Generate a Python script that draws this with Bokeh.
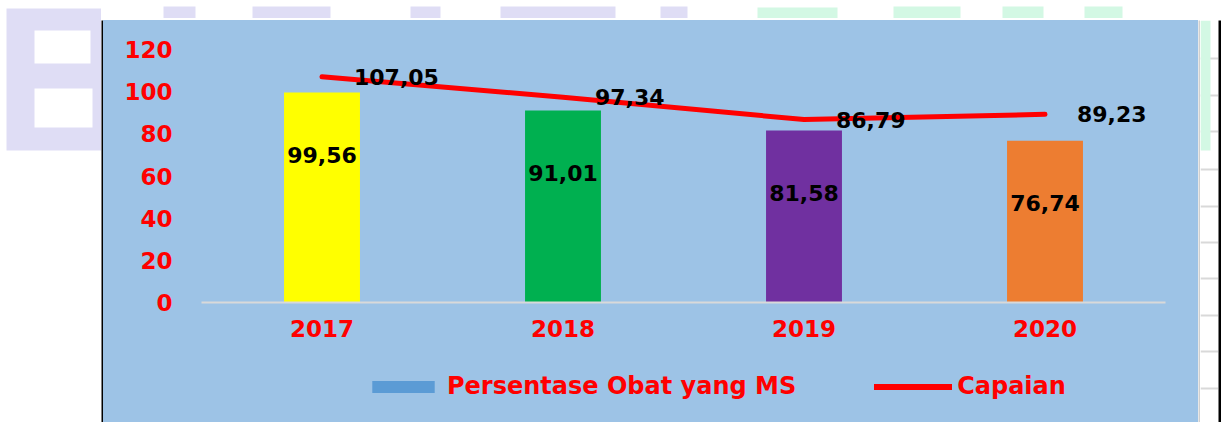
from bokeh.plotting import figure
from bokeh.models import Range1d, FactorRange, Legend, LegendItem, ColumnDataSource, FixedTicker, Grid
from bokeh.layouts import row, column
from bokeh.core.properties import value
from bokeh.embed import file_html
from bokeh.resources import INLINE

# ---- data ----
years = ["2017", "2018", "2019", "2020"]
ms_pct = [99.56, 91.01, 81.58, 76.74]          # Persentase Obat yang MS (bars)
capaian = [107.05, 97.34, 86.79, 89.23]        # Capaian (line)
bar_colors = ["#FFFF00", "#00B050", "#7030A0", "#ED7D31"]
y_ticks = [0, 20, 40, 60, 80, 100, 120]
series_names = ["Persentase Obat yang MS", "Capaian"]
series_swatch = ["#5B9BD5", "#FF0000"]


def fmt(v):
    return f"{v:.2f}".replace(".", ",")


ms_labels = [fmt(v) for v in ms_pct]
cap_labels = [fmt(v) for v in capaian]

FONT = "DejaVu Sans"
RED = "#FF0000"
BLUE_BG = "#9DC3E6"
LAV = "#DFDDF5"
MINT = "#D3F8E4"


def block(w, h, color, xr=None, yr=None):
    kw = {}
    if xr is not None:
        kw["x_range"] = Range1d(*xr)
        kw["y_range"] = Range1d(*yr)
    f = figure(width=w, height=h, toolbar_location=None, output_backend="svg",
               min_border=0, x_axis_type=None, y_axis_type=None, **kw)
    f.background_fill_color = color
    f.border_fill_color = color
    f.outline_line_color = None
    return f


# ---- main chart ----
p = figure(width=1095, height=330,
           x_range=FactorRange(factors=years, range_padding=0),
           y_range=Range1d(0, 120),
           toolbar_location=None, output_backend="svg",
           min_border_left=98, min_border_right=33,
           min_border_top=29, min_border_bottom=48)
p.background_fill_color = BLUE_BG
p.border_fill_color = None          # transparent border; the element's own background is blue
p.styles = {"background-color": BLUE_BG}
p.outline_line_color = None
p.xgrid.visible = False
p.ygrid.visible = False

src = ColumnDataSource(dict(x=years, top=ms_pct, color=bar_colors, lbl=ms_labels))
p.vbar(x="x", top="top", width=0.315, fill_color="color", line_color=None, source=src)

p.line(x=years, y=capaian, line_color=RED, line_width=5,
       line_cap="round", line_join="round")

p.text(x="x", y="top", text="lbl", source=src, text_align="center",
       text_baseline="middle", y_offset=62,
       text_font=value(FONT), text_font_style="bold", text_font_size="22px",
       text_color="black")

p.text(x=years, y=capaian, text=cap_labels, text_align="left",
       text_baseline="middle", x_offset=32,
       text_font=value(FONT), text_font_style="bold", text_font_size="22px",
       text_color="black")

# axes
p.yaxis.ticker = FixedTicker(ticks=y_ticks)
p.yaxis.axis_line_color = None
p.yaxis.major_tick_line_color = None
p.yaxis.minor_tick_line_color = None
p.yaxis.major_tick_out = 0
p.yaxis.major_tick_in = 0
p.yaxis.major_label_standoff = 29
p.yaxis.major_label_text_color = RED
p.yaxis.major_label_text_font = FONT
p.yaxis.major_label_text_font_style = "bold"
p.yaxis.major_label_text_font_size = "23px"

p.xaxis.axis_line_color = "#D9D9D9"
p.xaxis.axis_line_width = 2
p.xaxis.major_tick_line_color = None
p.xaxis.minor_tick_line_color = None
p.xaxis.major_tick_out = 0
p.xaxis.major_tick_in = 0
p.xaxis.major_label_standoff = 17
p.xaxis.major_label_text_color = RED
p.xaxis.major_label_text_font = FONT
p.xaxis.major_label_text_font_style = "bold"
p.xaxis.major_label_text_font_size = "23px"

# ---- legend strip (same blue panel, below the axis; its frame aligns with p's) ----
leg_fig = figure(width=1095, height=72, toolbar_location=None, output_backend="svg",
                 min_border=0, x_axis_type=None, y_axis_type=None,
                 x_range=Range1d(0, 1), y_range=Range1d(0, 1))
leg_fig.background_fill_color = BLUE_BG
leg_fig.border_fill_color = None
leg_fig.styles = {"background-color": BLUE_BG}
leg_fig.outline_line_color = None
# swatch renderers sit outside the visible range; they only lend their style to the legend
sw_bar = leg_fig.vbar(x=[-10], top=[-10], width=0.3, fill_color=series_swatch[0], line_color=None)
sw_line = leg_fig.line(x=[-10, -9], y=[-10, -10], line_color=series_swatch[1], line_width=6,
                       line_cap="round")
legend = Legend(items=[LegendItem(label=series_names[0], renderers=[sw_bar]),
                       LegendItem(label=series_names[1], renderers=[sw_line])],
                location=(163, 22), orientation="horizontal",
                background_fill_alpha=0, border_line_color=None,
                padding=0, margin=0, spacing=78,
                glyph_width=78, glyph_height=15, label_standoff=5,
                label_height=28,
                label_text_font=FONT, label_text_font_style="bold",
                label_text_font_size="24px", label_text_color=RED)
leg_fig.add_layout(legend)

# ---- surrounding sheet decoration (faint watermark, cell frame) ----
left = block(101, 422, "white", xr=(0, 101), yr=(422, 0))
left.quad(left=[6], right=[101], top=[8], bottom=[150], fill_color=LAV, line_color=None)
left.quad(left=[34, 34], right=[90, 92], top=[30, 88], bottom=[63, 127],
          fill_color="white", line_color=None)

top = block(1121, 18, "white", xr=(101, 1222), yr=(18, 0))
top.quad(left=[163, 252, 410, 500, 660], right=[195, 330, 440, 615, 687],
         top=[6] * 5, bottom=[18] * 5, fill_color=LAV, line_color=None)
top.quad(left=[757, 893, 1002, 1084], right=[837, 960, 1043, 1122],
         top=[7, 6, 6, 6], bottom=[18] * 4, fill_color=MINT, line_color=None)

black_top = block(1121, 2, "black")
black_left = block(2, 402, "black")
gray_right = block(2, 402, "#D0D0D0")

grid_fig = block(18, 402, "white", xr=(1200, 1218), yr=(422, 20))
grid_fig.quad(left=[1200], right=[1210], top=[20], bottom=[150], fill_color=MINT, line_color=None)
grid_fig.add_layout(Grid(dimension=1, ticker=FixedTicker(ticks=[58, 95, 131, 169, 206, 242, 278, 315, 351, 388]),
                         grid_line_color="#D9D9D9", grid_line_width=2))
black_right = block(3, 402, "black")
white_end = block(1, 402, "white")

layout = row(left,
             column(top, black_top,
                    row(black_left, column(p, leg_fig), gray_right, grid_fig, black_right, white_end)))

open("out.html", "w").write(file_html(layout, INLINE))
